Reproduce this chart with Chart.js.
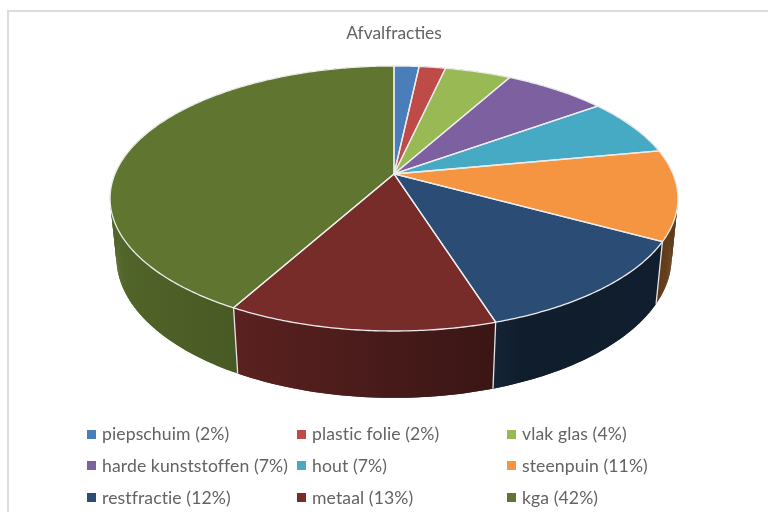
<!DOCTYPE html>
<html>
<head>
<meta charset="utf-8">
<script src="https://cdn.jsdelivr.net/npm/chart.js@4"></script>
<style>
    html, body { margin: 0; padding: 0; background: #fff; }
    .chart-box { position: relative; width: 768px; height: 512px; overflow: hidden; filter: blur(0.45px); }
    .frame { position: absolute; left: 7px; top: 10px; right: -4px; bottom: -4px; border: 2px solid #dcdcdc; }
    .legend-item { position: absolute; font: 17.6px Lato, sans-serif; letter-spacing: 0.1px; color: #636363; white-space: nowrap; line-height: 20px; }
    .legend-mark { position: absolute; width: 9px; height: 9px; }
</style>
</head>
<body>
<div class="chart-box">
    <div class="frame"></div>
    <canvas class="chart-1" width="768" height="512"></canvas>
    <div class="chart-legend"></div>
</div>
<script>
const categories = ['piepschuim', 'plastic folie', 'vlak glas', 'harde kunststoffen', 'hout', 'steenpuin', 'restfractie', 'metaal', 'kga'];
// slice sizes, the legend shows them rounded
const sliceValues = [1.7, 1.8, 4.5, 7, 7, 11, 12.15, 12.85, 42];
const legendPercents = [2, 2, 4, 7, 7, 11, 12, 13, 42];
const faceColors = ['#4a7ebb', '#be4b48', '#98b954', '#7d60a0', '#46aac5', '#f59542', '#2b4c75', '#772c2a', '#5f7530'];

// perspective of the tilted pie, as ratios of the pie radius
const stretchX = 2.25, stretchY = 1.032, depth = 0.479;
const tilt = 0.185, depthShrink = 0.022;

// how dark the side wall gets from left to right
const shadeX = [110, 240, 490, 520, 680];
const shadeF = [0.86, 0.76, 0.49, 0.38, 0.40];

function project(arc, theta, lower) {
    const w = 1 + tilt * Math.cos(theta) + (lower ? depthShrink : 0);
    const r = arc.outerRadius;
    return {
        x: arc.x + r * stretchX * Math.sin(theta) / w,
        y: arc.y - r * (stretchY * Math.cos(theta) - (lower ? depth : 0)) / w
    };
}

function darken(hex, f) {
    const n = parseInt(hex.slice(1), 16);
    return 'rgb(' + Math.round((n >> 16) * f) + ',' + Math.round(((n >> 8) & 255) * f) + ',' + Math.round((n & 255) * f) + ')';
}

function wallGradient(ctx, hex) {
    const first = shadeX[0], last = shadeX[shadeX.length - 1];
    const g = ctx.createLinearGradient(first, 0, last, 0);
    shadeX.forEach((x, i) => g.addColorStop((x - first) / (last - first), darken(hex, shadeF[i])));
    return g;
}

function anglesOf(arc) {
    // chart.js starts at -90deg, theta is measured clockwise from 12 o'clock
    const from = arc.startAngle + Math.PI / 2, to = arc.endAngle + Math.PI / 2;
    const steps = Math.max(2, Math.ceil((to - from) / 0.01));
    const list = [];
    for (let i = 0; i <= steps; i++) list.push(from + (to - from) * i / steps);
    return list;
}

const pie3d = {
    id: 'pie3d',
    beforeDatasetsDraw(chart) {
        const ctx = chart.ctx;
        const arcs = chart.getDatasetMeta(0).data;
        ctx.save();
        ctx.lineJoin = 'round';
        // side walls, quad by quad because the band folds over at the left and right edge.
        // quads overlap by one step so no seams show
        arcs.forEach((arc, i) => {
            const angles = anglesOf(arc);
            ctx.fillStyle = wallGradient(ctx, faceColors[i]);
            for (let k = 0; k < angles.length - 1; k++) {
                const next = angles[Math.min(k + 2, angles.length - 1)];
                const a = project(arc, angles[k]), b = project(arc, next);
                const c = project(arc, next, true), d = project(arc, angles[k], true);
                ctx.beginPath();
                ctx.moveTo(a.x, a.y);
                ctx.lineTo(b.x, b.y);
                ctx.lineTo(c.x, c.y);
                ctx.lineTo(d.x, d.y);
                ctx.closePath();
                ctx.fill();
            }
        });
        // light edge between the walls
        ctx.strokeStyle = '#e4e4e4';
        ctx.lineWidth = 1.3;
        arcs.forEach((arc) => {
            const theta = arc.startAngle + Math.PI / 2;
            const a = project(arc, theta), b = project(arc, theta, true);
            ctx.beginPath();
            ctx.moveTo(a.x, a.y);
            ctx.lineTo(b.x, b.y);
            ctx.stroke();
        });
        // top face
        arcs.forEach((arc, i) => {
            ctx.beginPath();
            ctx.moveTo(arc.x, arc.y);
            anglesOf(arc).forEach((t) => {
                const p = project(arc, t);
                ctx.lineTo(p.x, p.y);
            });
            ctx.closePath();
            ctx.fillStyle = faceColors[i];
            ctx.fill();
        });
        ctx.strokeStyle = '#ececec';
        ctx.lineWidth = 1.3;
        arcs.forEach((arc) => {
            ctx.beginPath();
            ctx.moveTo(arc.x, arc.y);
            anglesOf(arc).forEach((t) => {
                const p = project(arc, t);
                ctx.lineTo(p.x, p.y);
            });
            ctx.closePath();
            ctx.stroke();
        });
        ctx.restore();
        return false;
    }
};

var ctx1 = document.querySelector('.chart-1');
const chart1 = new Chart(ctx1, {
    type: 'pie',
    data: {
        labels: categories,
        datasets: [
            {
                label: 'Afvalfracties',
                data: sliceValues,
                backgroundColor: faceColors,
                hoverOffset: 0,
                borderWidth: 0
            }
        ]
    },
    options: {
        responsive: false,
        animation: false,
        layout: { padding: { left: 20, right: 0, top: 0, bottom: 214 } },
        plugins: {
            legend: { display: false },
            tooltip: { enabled: false },
            title: {
                display: true,
                text: 'Afvalfracties',
                color: '#636363',
                font: { family: 'Lato', size: 17.4, weight: 'normal', lineHeight: 1.2 },
                padding: { top: 22.5, bottom: 6.6 }
            }
        }
    },
    plugins: [pie3d]
});

// html legend, three fixed columns like the original
const legendBox = document.querySelector('.chart-legend');
const columnX = [87, 297, 507];
const rowY = [434, 465.5, 497.5];
categories.forEach((name, i) => {
    const cx = columnX[i % 3], cy = rowY[Math.floor(i / 3)];
    const mark = document.createElement('span');
    mark.className = 'legend-mark';
    mark.style.left = cx + 'px';
    mark.style.top = (cy - 4.5) + 'px';
    mark.style.background = faceColors[i];
    const text = document.createElement('span');
    text.className = 'legend-item';
    text.style.left = (cx + 15) + 'px';
    text.style.top = (cy - 10) + 'px';
    text.textContent = name + ' (' + legendPercents[i] + '%)';
    legendBox.appendChild(mark);
    legendBox.appendChild(text);
});
</script>
</body>
</html>
